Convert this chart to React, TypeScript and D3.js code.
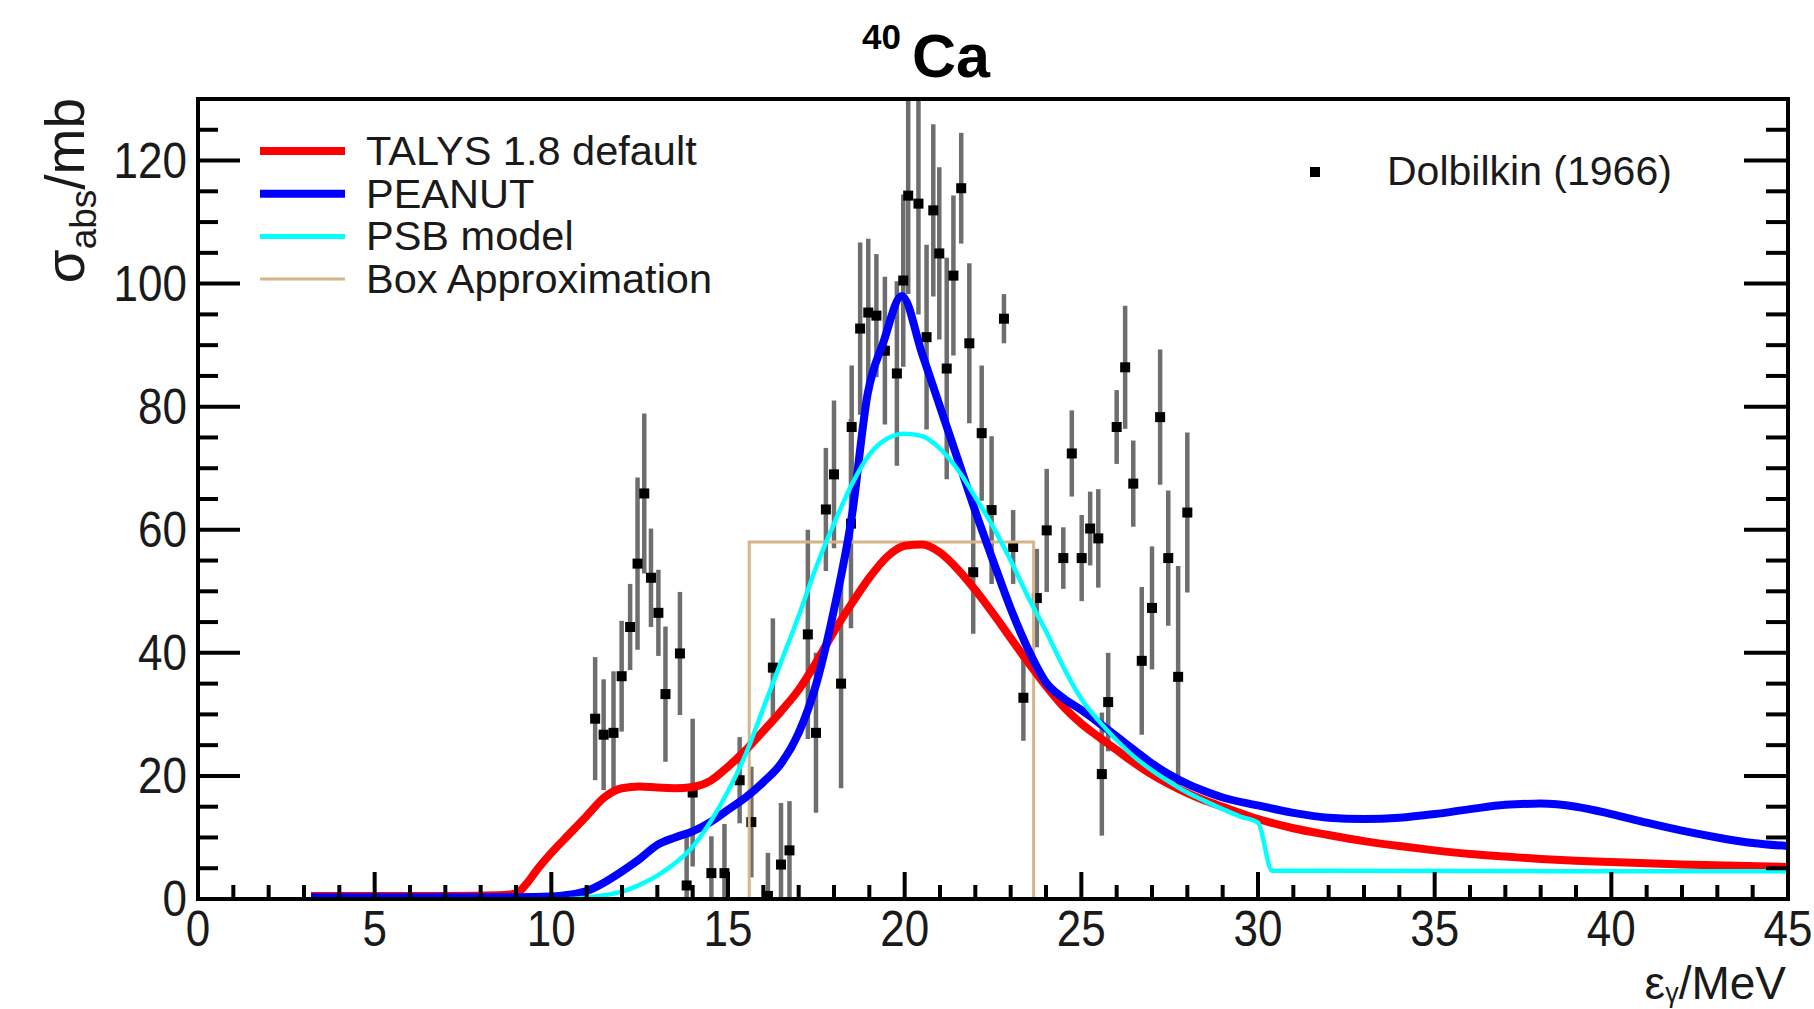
import React from "react";
import * as d3 from "d3";

// ---------- data ----------
const talysX = [3.2, 5, 7, 8.5, 9.0, 9.3, 9.6, 10, 10.5, 11, 11.5, 12, 12.5, 13, 13.5, 14, 14.5, 15, 15.5, 16, 16.5, 17, 17.5, 18, 18.5, 19, 19.5, 20, 20.5, 21, 21.5, 22, 22.5, 23, 23.5, 24, 24.5, 25, 25.5, 26, 26.5, 27, 27.5, 28, 28.5, 29, 30, 31, 32, 33, 34, 35, 36, 37, 38, 39, 40, 42, 45];
const talysY = [0.5, 0.5, 0.5, 0.6, 0.9, 2.5, 4.8, 7.5, 10.5, 13.5, 16.5, 18, 18.3, 18.1, 18, 18.2, 19.2, 21.5, 24.2, 27.3, 30.5, 34, 38.5, 43.5, 48, 52.2, 55.6, 57.4, 57.6, 56.3, 53.6, 50.2, 46.4, 42.4, 38.4, 34.6, 31.2, 28.5, 26.3, 24.2, 22.1, 20.2, 18.6, 17.2, 16, 15, 13, 11.5, 10.4, 9.4, 8.6, 7.9, 7.3, 6.9, 6.5, 6.2, 6, 5.6, 5.2];

const peanutX = [3.2, 6, 9, 10, 10.5, 11, 11.5, 12, 12.5, 13, 13.5, 14, 14.5, 15, 15.5, 16, 16.5, 17, 17.5, 18, 18.5, 18.95, 19.4, 19.92, 20.5, 21, 21.5, 22, 22.5, 23, 23.5, 24, 24.5, 25, 25.5, 26, 26.5, 27, 27.5, 28, 28.5, 29, 30, 31, 32, 33, 34, 35, 36, 37, 38, 39, 40, 41, 42, 43, 44, 45];
const peanutY = [0.3, 0.3, 0.3, 0.4, 0.7, 1.3, 2.7, 4.5, 6.5, 8.8, 10, 11, 12.5, 14.5, 16.5, 19, 22, 27, 35, 47, 62, 82, 90.5, 98, 88.5, 80, 71.5, 63, 55, 47.2, 40.5, 35.2, 32.6, 30.7, 28.6, 26.4, 24.2, 22, 20.2, 18.7, 17.5, 16.5, 15.2, 14, 13.2, 13, 13.2, 13.8, 14.6, 15.3, 15.5, 15, 13.8, 12.4, 11.1, 10, 9.1, 8.6];

const psbX = [10.5, 11, 11.5, 12, 12.5, 13, 13.5, 14, 14.5, 15, 15.5, 16, 16.5, 17, 17.5, 18, 18.5, 19, 19.5, 20, 20.5, 21, 21.5, 22, 22.5, 23, 23.5, 24, 24.5, 25, 25.5, 26, 26.5, 27, 27.5, 28, 28.5, 29, 29.5, 30, 30.4, 45];
const psbY = [0, 0.2, 0.6, 1.2, 2.3, 3.8, 5.8, 8.5, 12.5, 17.5, 23.5, 31, 38.5, 46, 54, 61, 67.3, 72.2, 74.8, 75.6, 75.2, 73.2, 69.8, 65.3, 60.5, 55, 49, 43.5, 37.6, 32.5, 28.9, 25.8, 23.1, 20.9, 19, 17.3, 15.9, 14.6, 13.4, 12.4, 4.6, 4.5];

const boxX = [15.6, 15.6, 23.65, 23.65];
const boxY = [0, 58, 58, 0];

const dolbX = [11.24, 11.48, 11.76, 11.99, 12.23, 12.44, 12.63, 12.82, 13.03, 13.23, 13.64, 13.83, 14.0, 14.53, 14.9, 15.33, 15.66, 16.13, 16.27, 16.5, 16.74, 17.26, 17.49, 17.77, 18.0, 18.2, 18.48, 18.5, 18.74, 18.97, 19.2, 19.44, 19.78, 19.96, 20.1, 20.39, 20.62, 20.81, 20.98, 21.19, 21.38, 21.6, 21.83, 21.94, 22.18, 22.46, 22.81, 23.07, 23.36, 23.74, 24.02, 24.49, 24.73, 25.01, 25.25, 25.48, 25.58, 25.76, 26.0, 26.24, 26.47, 26.71, 27.0, 27.23, 27.46, 27.74, 28.0];
const dolbY = [29.3, 26.7, 27.0, 36.2, 44.2, 54.5, 65.9, 52.2, 46.5, 33.3, 39.9, 2.2, 17.3, 4.2, 4.2, 19.3, 12.5, 0.5, 37.6, 5.6, 7.9, 43, 27, 63.3, 69, 35, 61, 76.7, 92.7, 95.3, 94.8, 89.1, 85.4, 100.5, 114.3, 113, 91.3, 111.9, 104.9, 86.2, 101.3, 115.5, 90.3, 53.1, 75.7, 63.2, 94.3, 57.2, 32.7, 48.9, 59.9, 55.4, 72.4, 55.4, 60.2, 58.6, 20.3, 32, 76.7, 86.4, 67.5, 38.7, 47.3, 78.3, 55.4, 36.1, 62.8];
const dolbErr = [10, 9, 10, 9, 7, 14, 13, 8, 7, 11, 10, 8, 12, 6, 8, 7, 9, 7, 8, 10, 8, 17, 13, 10, 12, 17, 17, 10, 14, 12, 10, 12, 15, 14, 16, 18, 15, 14, 14, 18, 13, 9, 13, 10, 11, 12, 4, 6, 7, 8, 10, 5, 7, 7, 6, 8, 10, 8, 6, 10, 7, 12, 10, 11, 11, 18, 13];

const xMajorTicks = [0, 5, 10, 15, 20, 25, 30, 35, 40, 45];
const yMajorTicks = [0, 20, 40, 60, 80, 100, 120];

const legendLabels = ["TALYS 1.8 default", "PEANUT", "PSB model", "Box Approximation"];
const legendColors = ["#ff0000", "#0000ff", "#00ffff", "#d8b48a"];
const legendWidths = [8, 8, 5, 3];
const dataLabel = "Dolbilkin (1966)";

// ---------- layout ----------
const W = 1814;
const H = 1009;
const L = 198, R = 1788, T = 99, B = 899;
const FONT = "'Liberation Sans', Arial, Helvetica, sans-serif";

export default function App() {
  const x = d3.scaleLinear().domain([0, 45]).range([L, R]);
  const y = d3.scaleLinear().domain([0, 130]).range([B, T]);

  const mk = (xs: number[], ys: number[], curve: any) =>
    d3
      .line<number>()
      .x((_, i) => x(xs[i]))
      .y((_, i) => y(ys[i]))
      .curve(curve)(xs.map((_, i) => i)) || "";

  const talysPath = mk(talysX, talysY, d3.curveMonotoneX);
  const peanutPath = mk(peanutX, peanutY, d3.curveMonotoneX);
  const psbPath = mk(psbX, psbY, d3.curveMonotoneX);
  const boxPath = mk(boxX, boxY, d3.curveLinear);

  const xMinor = d3.range(0, 46, 1).filter((v) => v % 5 !== 0);
  const yMinor = d3.range(0, 130, 5).filter((v) => v % 20 !== 0);

  const tickLabelStyle = { fontFamily: FONT, fontSize: 50, fill: "#1a1a1a" } as any;

  return (
    <svg
      width={W}
      height={H}
      viewBox={`0 0 ${W} ${H}`}
      style={{ position: "fixed", left: 0, top: 0, background: "#fff" }}
    >
      <defs>
        <clipPath id="plotClip">
          <rect x={L} y={T} width={R - L} height={B - T} />
        </clipPath>
      </defs>
      <rect x={0} y={0} width={W} height={H} fill="#fff" />

      {/* title */}
      <text x={862} y={49} fontFamily={FONT} fontWeight="bold" fontSize={35} fill="#000">
        40
      </text>
      <text x={912} y={77} fontFamily={FONT} fontWeight="bold" fontSize={61} fill="#000">
        Ca
      </text>

      <g clipPath="url(#plotClip)">
        {/* data error bars */}
        {dolbX.map((v, i) => (
          <line
            key={"e" + i}
            x1={x(v)}
            x2={x(v)}
            y1={y(dolbY[i] - dolbErr[i])}
            y2={y(dolbY[i] + dolbErr[i])}
            stroke="#6e6e6e"
            strokeWidth={4.5}
          />
        ))}
        {dolbX.map((v, i) => (
          <rect key={"p" + i} x={x(v) - 5} y={y(dolbY[i]) - 5} width={10} height={10} fill="#000" />
        ))}

        <path d={boxPath} fill="none" stroke={legendColors[3]} strokeWidth={3} />
        <path d={talysPath} fill="none" stroke={legendColors[0]} strokeWidth={8} strokeLinejoin="round" />
        <path d={peanutPath} fill="none" stroke={legendColors[1]} strokeWidth={8} strokeLinejoin="round" />
        <path d={psbPath} fill="none" stroke={legendColors[2]} strokeWidth={4.5} strokeLinejoin="round" />
      </g>

      {/* frame */}
      <rect x={L} y={T} width={R - L} height={B - T} fill="none" stroke="#000" strokeWidth={4} />

      {/* bottom ticks */}
      {xMajorTicks.map((v) => (
        <line key={"xM" + v} x1={x(v)} x2={x(v)} y1={B} y2={B - 27} stroke="#000" strokeWidth={4} />
      ))}
      {xMinor.map((v) => (
        <line key={"xm" + v} x1={x(v)} x2={x(v)} y1={B} y2={B - 14} stroke="#000" strokeWidth={4} />
      ))}
      {/* left & right ticks */}
      {yMajorTicks.map((v) => (
        <g key={"yM" + v}>
          <line x1={L} x2={L + 42} y1={y(v)} y2={y(v)} stroke="#000" strokeWidth={4} />
          <line x1={R} x2={R - 44} y1={y(v)} y2={y(v)} stroke="#000" strokeWidth={4} />
        </g>
      ))}
      {yMinor.map((v) => (
        <g key={"ym" + v}>
          <line x1={L} x2={L + 20} y1={y(v)} y2={y(v)} stroke="#000" strokeWidth={4} />
          <line x1={R} x2={R - 22} y1={y(v)} y2={y(v)} stroke="#000" strokeWidth={4} />
        </g>
      ))}

      {/* tick labels */}
      {xMajorTicks.map((v) => (
        <text
          key={"xl" + v}
          transform={`translate(${x(v)},946) scale(0.88,1)`}
          textAnchor="middle"
          style={tickLabelStyle}
        >
          {v}
        </text>
      ))}
      {yMajorTicks.map((v) => (
        <text
          key={"yl" + v}
          transform={`translate(187,${y(v) + 17}) scale(0.88,1)`}
          textAnchor="end"
          style={tickLabelStyle}
        >
          {v}
        </text>
      ))}

      {/* axis titles */}
      <text x={1786} y={999} textAnchor="end" fontFamily={FONT} fontSize={46} fill="#1a1a1a">
        ε<tspan fontSize={27} dy={3}>γ</tspan>
        <tspan dy={-3}>/MeV</tspan>
      </text>
      <text
        transform="translate(84,98) rotate(-90)"
        textAnchor="end"
        fontFamily={FONT}
        fontSize={55}
        fill="#1a1a1a"
      >
        σ<tspan fontSize={37} dy={12}>abs</tspan>
        <tspan dy={-12}>/mb</tspan>
      </text>

      {/* legend (models) */}
      {legendLabels.map((lab, i) => {
        const ly = 151 + i * 42.7;
        return (
          <g key={"lg" + i}>
            <line x1={260} x2={345} y1={ly} y2={ly} stroke={legendColors[i]} strokeWidth={legendWidths[i]} />
            <text x={366} y={ly + 14} fontFamily={FONT} fontSize={41.5} fill="#1a1a1a">
              {lab}
            </text>
          </g>
        );
      })}

      {/* legend (data) */}
      <rect x={1310} y={167} width={10} height={10} fill="#000" />
      <text x={1387} y={185} fontFamily={FONT} fontSize={41} fill="#1a1a1a">
        {dataLabel}
      </text>
    </svg>
  );
}
